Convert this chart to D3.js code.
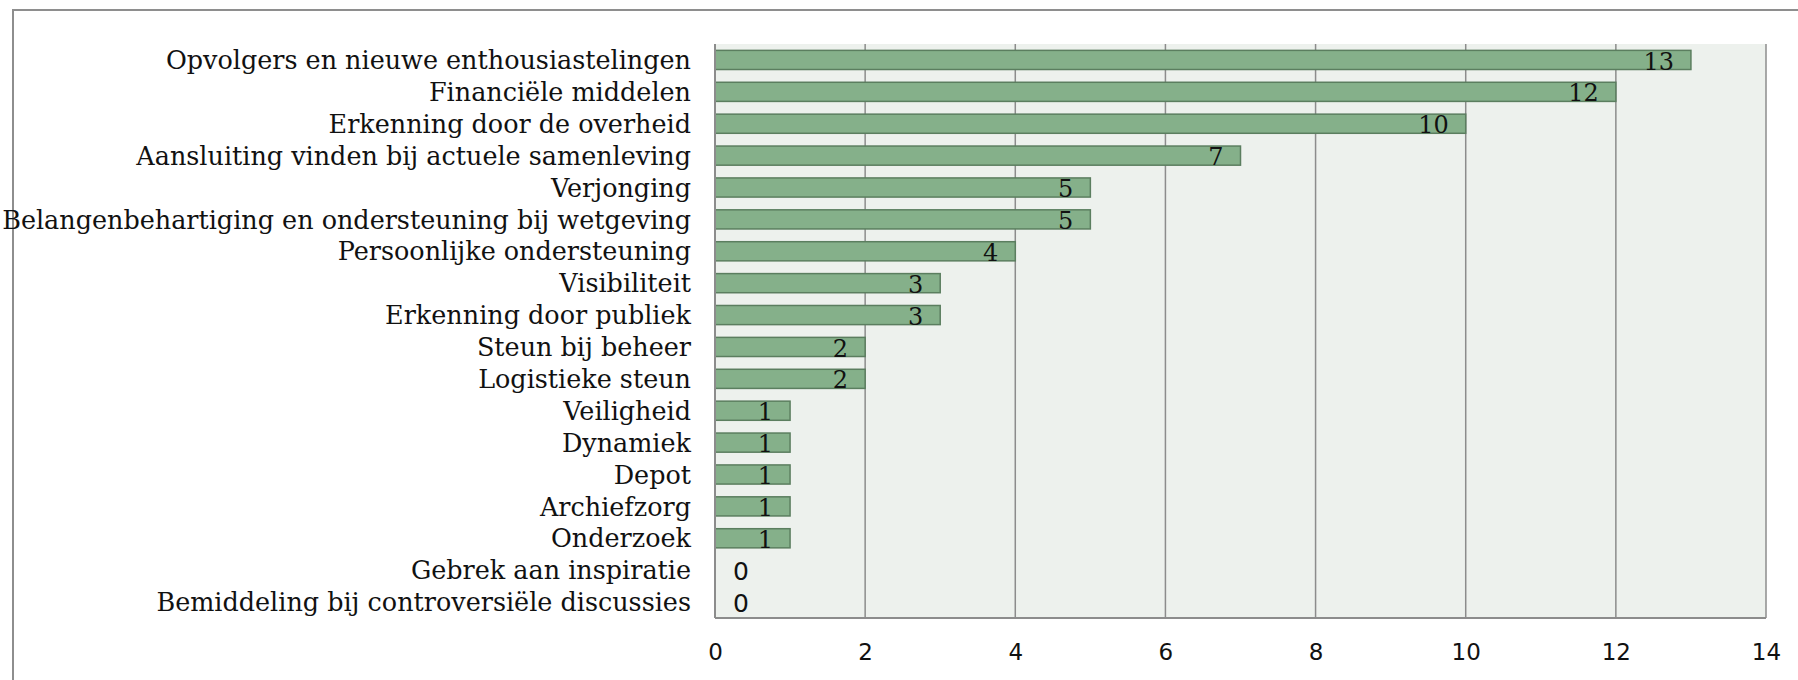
<html>
<head>
<meta charset="utf-8">
<style>
  body { margin: 0; background: #fff; }
  text { font-family: "DejaVu Serif", serif; fill: #111; }
</style>
</head>
<body>
<script src="https://d3js.org/d3.v7.min.js" charset="utf-8"></script>
<svg id="chart" width="1798" height="680"></svg>
<script>
  // categories, top to bottom
  var categories = [
    "Opvolgers en nieuwe enthousiastelingen",
    "Financiële middelen",
    "Erkenning door de overheid",
    "Aansluiting vinden bij actuele samenleving",
    "Verjonging",
    "Belangenbehartiging en ondersteuning bij wetgeving",
    "Persoonlijke ondersteuning",
    "Visibiliteit",
    "Erkenning door publiek",
    "Steun bij beheer",
    "Logistieke steun",
    "Veiligheid",
    "Dynamiek",
    "Depot",
    "Archiefzorg",
    "Onderzoek",
    "Gebrek aan inspiratie",
    "Bemiddeling bij controversiële discussies"
  ];
  var values = [13, 12, 10, 7, 5, 5, 4, 3, 3, 2, 2, 1, 1, 1, 1, 1, 0, 0];
  var xTicks = [0, 2, 4, 6, 8, 10, 12, 14];

  var svg = d3.select("#chart");
  var pLeft = 715, pRight = 1766, pTop = 44, pBottom = 618;

  // outer frame
  svg.append("rect")
    .attr("x", 13).attr("y", 10)
    .attr("width", 1798).attr("height", 700)
    .attr("fill", "none").attr("stroke", "#8e8e8e").attr("stroke-width", 2);

  var x = d3.scaleLinear().domain([0, 14]).range([pLeft, pRight]);
  var y = d3.scaleBand().domain(categories).range([pTop, pBottom]).paddingInner(0.4).paddingOuter(0.2);

  // plot background
  svg.append("rect")
    .attr("x", pLeft).attr("y", pTop)
    .attr("width", pRight - pLeft).attr("height", pBottom - pTop)
    .attr("fill", "#edf1ed");

  // gridlines
  svg.selectAll(".grid").data(xTicks.slice(1)).enter().append("line")
    .attr("class", "grid")
    .attr("x1", function(d) { return x(d); }).attr("x2", function(d) { return x(d); })
    .attr("y1", pTop).attr("y2", pBottom)
    .attr("stroke", "#8c8c8c").attr("stroke-width", 1.5);

  // bottom line
  svg.append("line")
    .attr("x1", pLeft).attr("x2", pRight).attr("y1", pBottom).attr("y2", pBottom)
    .attr("stroke", "#8c8c8c").attr("stroke-width", 2);

  // bars
  svg.selectAll(".bar").data(values).enter().append("rect")
    .attr("class", "bar")
    .attr("x", x(0))
    .attr("y", function(d, i) { return y(categories[i]); })
    .attr("width", function(d) { return x(d) - x(0); })
    .attr("height", y.bandwidth())
    .attr("fill", "#85b08a")
    .attr("stroke", "#5b7e5f").attr("stroke-width", 1.5)
    .style("display", function(d) { return d == 0 ? "none" : null; });

  // left axis line
  svg.append("line")
    .attr("x1", pLeft).attr("x2", pLeft).attr("y1", pTop).attr("y2", pBottom)
    .attr("stroke", "#8c8c8c").attr("stroke-width", 2);

  // value labels (zeros sit just right of the axis)
  svg.selectAll(".val").data(values).enter().append("text")
    .attr("class", "val")
    .attr("x", function(d) { return d == 0 ? x(0) + 18 : x(d) - 17; })
    .attr("y", function(d, i) { return y(categories[i]) + y.bandwidth() / 2; })
    .attr("dy", "0.4em")
    .attr("text-anchor", function(d) { return d == 0 ? "start" : "end"; })
    .style("font-size", function(d) { return d == 0 ? "25px" : "24px"; })
    .style("font-family", function(d) { return d == 0 ? "'DejaVu Sans', sans-serif" : null; })
    .text(function(d) { return d; });

  // category labels
  var labels = svg.selectAll(".cat").data(categories).enter().append("text")
    .attr("class", "cat")
    .attr("x", 691)
    .attr("y", function(d) { return y(d) + y.bandwidth() / 2; })
    .attr("dy", "0.36em")
    .attr("text-anchor", "end")
    .style("font-size", "22px")
    .text(function(d) { return d; });

  // fit longest label to the same width as the reference
  var maxW = d3.max(labels.nodes(), function(n) { return n.getComputedTextLength(); });
  labels.style("font-size", (22 * 689 / maxW) + "px");

  // x axis
  var xAxis = d3.axisBottom(x).tickValues(xTicks).tickSize(0).tickPadding(0);
  var g = svg.append("g").attr("transform", "translate(0," + 644 + ")").call(xAxis);
  g.select(".domain").remove();
  g.selectAll("text")
    .style("font-family", "'DejaVu Sans', sans-serif")
    .style("font-size", "23px").attr("fill", "#111");
</script>
</body>
</html>
